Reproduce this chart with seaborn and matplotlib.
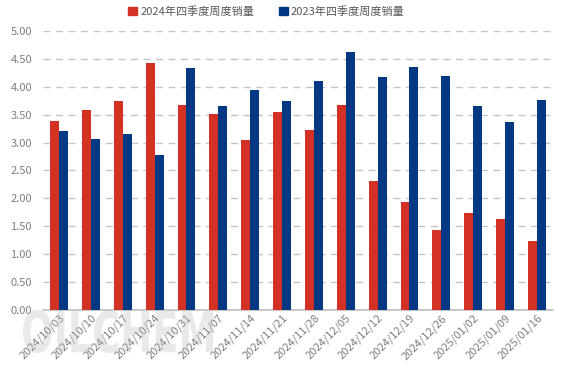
import numpy as np
import pandas as pd
import seaborn as sns
import matplotlib.pyplot as plt
from matplotlib.ticker import FixedLocator, FormatStrFormatter
from matplotlib.patches import Patch, PathPatch
from matplotlib.textpath import TextPath
from matplotlib.font_manager import FontProperties
from matplotlib.transforms import Affine2D

# Weekly sales, Q4 2024 vs Q4 2023
weeks = ["2024/10/03", "2024/10/10", "2024/10/17", "2024/10/24", "2024/10/31",
         "2024/11/07", "2024/11/14", "2024/11/21", "2024/11/28", "2024/12/05",
         "2024/12/12", "2024/12/19", "2024/12/26", "2025/01/02", "2025/01/09",
         "2025/01/16"]
sales_2024 = [3.38, 3.59, 3.75, 4.43, 3.68, 3.52, 3.04, 3.54, 3.22, 3.68,
              2.32, 1.93, 1.43, 1.73, 1.63, 1.23]
sales_2023 = [3.20, 3.07, 3.16, 2.77, 4.33, 3.66, 3.95, 3.75, 4.11, 4.63,
              4.17, 4.35, 4.20, 3.66, 3.36, 3.77]
series_names = ["2024年四季度周度销量", "2023年四季度周度销量"]
colors = ["#D33124", "#013883"]

df = pd.DataFrame({
    "week": weeks * 2,
    "value": sales_2024 + sales_2023,
    "series": [series_names[0]] * len(weeks) + [series_names[1]] * len(weeks),
})

sns.set_style("white")
plt.rcParams["font.family"] = ["Noto Sans CJK SC", "DejaVu Sans"]

fig, ax = plt.subplots(figsize=(5.67, 3.78), dpi=100)
fig.subplots_adjust(left=0.076, right=0.975, top=0.918, bottom=0.18)

sns.barplot(data=df, x="week", y="value", hue="series", palette=colors,
            width=0.56, gap=0, saturation=1, linewidth=0, ax=ax, legend=False,
            zorder=3)

ax.set_ylim(0, 5)
ax.set_xlim(-0.5, len(weeks) - 0.5)
ax.set_yticks(np.arange(0, 5.01, 0.5))
ax.yaxis.set_major_formatter(FormatStrFormatter("%.2f"))
ax.grid(axis="y", color="#C4C4C4", linestyle=(0, (5, 4)), linewidth=1, zorder=0)
ax.set_xlabel("")
ax.set_ylabel("")

for side in ["top", "right", "left"]:
    ax.spines[side].set_visible(False)
ax.spines["bottom"].set_color("#BFBFBF")
ax.spines["bottom"].set_linewidth(1.2)

ax.tick_params(axis="y", length=0, labelsize=8, labelcolor="#7F7F7F", pad=8)
ax.tick_params(axis="x", which="major", length=0, labelsize=8,
               labelcolor="#7F7F7F", pad=2)
ax.xaxis.set_minor_locator(FixedLocator(np.arange(-0.5, len(weeks), 1)))
ax.tick_params(axis="x", which="minor", length=4, color="#BFBFBF", width=1)
plt.setp(ax.get_xticklabels(), rotation=45, ha="right", rotation_mode="anchor")

handles = [Patch(color=c) for c in colors]
fig.legend(handles, series_names, loc="upper center", bbox_to_anchor=(0.47, 1.01),
           ncol=2, frameon=False, fontsize=8, labelcolor="#595959",
           handlelength=0.8, handleheight=0.8, handletextpad=0.3, columnspacing=2.2)

# watermark, squeezed into a tall narrow box like the original logo
tp = TextPath((0, 0), "OILCHEM", size=1,
              prop=FontProperties(family="DejaVu Sans", weight="bold"))
bb = tp.get_extents()
x0, x1, y0, y1 = 23 / 567, 213 / 567, 1 - 353 / 378, 1 - 310 / 378
tr = (Affine2D().translate(-bb.x0, -bb.y0)
      .scale((x1 - x0) / bb.width, (y1 - y0) / bb.height)
      .translate(x0, y0))
wm = PathPatch(tr.transform_path(tp), transform=fig.transFigure,
               facecolor="#B8B8B8", edgecolor="none", alpha=0.3, zorder=5)
fig.patches.append(wm)

plt.savefig("out.png", dpi=100)
